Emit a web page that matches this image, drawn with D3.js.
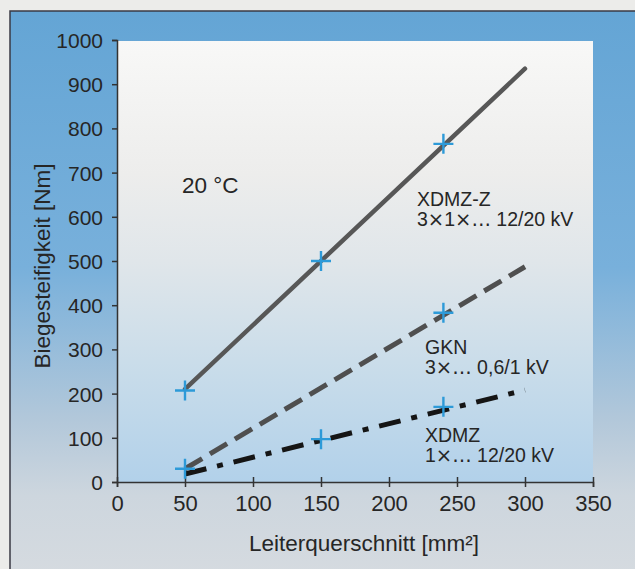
<!DOCTYPE html>
<html>
<head>
<meta charset="utf-8">
<script src="https://cdn.jsdelivr.net/npm/d3@7"></script>
<style>
  body { margin: 0; background: #ececea; }
  text { font-family: "Liberation Sans", Arial, sans-serif; fill: #262626; }
</style>
</head>
<body>
<script>
// values
var xTicks = [0, 50, 100, 150, 200, 250, 300, 350];
var yTicks = [0, 100, 200, 300, 400, 500, 600, 700, 800, 900, 1000];

// fitted lines (start / end)
var lineX = [50, 300];
var xdmzzLine = [210, 935];
var gknLine = [30, 487];
var xdmzLine = [18, 208];

// measured points (blue crosses)
var xdmzzX = [50, 150, 240], xdmzzY = [207, 500, 765];
var gknX = [50, 240], gknY = [30, 383];
var xdmzX = [150, 240], xdmzY = [97, 170];

var width = 635, height = 569;

var svg = d3.select("body").append("svg")
    .attr("width", width)
    .attr("height", height);

var defs = svg.append("defs");

var outerGrad = defs.append("linearGradient")
    .attr("id", "outer").attr("x1", 0).attr("y1", 0).attr("x2", 0).attr("y2", 1);
outerGrad.append("stop").attr("offset", "0%").attr("stop-color", "#64a5d5");
outerGrad.append("stop").attr("offset", "45%").attr("stop-color", "#78b0db");
outerGrad.append("stop").attr("offset", "72%").attr("stop-color", "#b3c8da");
outerGrad.append("stop").attr("offset", "85%").attr("stop-color", "#cdd6de");
outerGrad.append("stop").attr("offset", "100%").attr("stop-color", "#d6dbe0");

var innerGrad = defs.append("linearGradient")
    .attr("id", "inner").attr("x1", 0).attr("y1", 0).attr("x2", 0).attr("y2", 1);
innerGrad.append("stop").attr("offset", "0%").attr("stop-color", "#f8f8f7");
innerGrad.append("stop").attr("offset", "30%").attr("stop-color", "#ededec");
innerGrad.append("stop").attr("offset", "50%").attr("stop-color", "#e0e6ea");
innerGrad.append("stop").attr("offset", "75%").attr("stop-color", "#c8dcea");
innerGrad.append("stop").attr("offset", "100%").attr("stop-color", "#b2d1ea");

// frame
svg.append("rect")
    .attr("x", 10).attr("y", 11)
    .attr("width", 640).attr("height", 570)
    .attr("fill", "url(#outer)")
    .attr("stroke", "#3a3a44")
    .attr("stroke-width", 1.5);

var x = d3.scaleLinear().domain([0, 350]).range([117, 593]);
var y = d3.scaleLinear().domain([0, 1000]).range([482, 40]);

// plot area
svg.append("rect")
    .attr("x", x(0)).attr("y", y(1000) + 1)
    .attr("width", x(350) - x(0))
    .attr("height", y(0) - y(1000) - 1)
    .attr("fill", "url(#inner)");

// axes
var xAxis = svg.append("g")
    .attr("transform", "translate(0," + y(0) + ")")
    .call(d3.axisBottom(x).tickValues(xTicks).tickSize(5).tickPadding(8).tickFormat(d3.format("d")));
var yAxis = svg.append("g")
    .attr("transform", "translate(" + x(0) + ",0)")
    .call(d3.axisLeft(y).tickValues(yTicks).tickSize(5).tickPadding(9).tickFormat(d3.format("d")));

[xAxis, yAxis].forEach(function(a){
  a.select(".domain").attr("stroke", "#333").attr("stroke-width", 1.5);
  a.selectAll(".tick line").attr("stroke", "#333").attr("stroke-width", 1.5);
  a.selectAll(".tick text")
    .attr("font-family", "Liberation Sans, Arial, sans-serif")
    .attr("fill", "#222");
});
xAxis.selectAll(".tick text").attr("font-size", 22);
yAxis.selectAll(".tick text").attr("font-size", 21).attr("dy", "0.36em");
xAxis.selectAll(".tick line").attr("y1", -5);

// axis titles
svg.append("text")
    .attr("transform", "translate(50,266) rotate(-90)")
    .attr("text-anchor", "middle")
    .attr("font-size", 22.5)
    .text("Biegesteifigkeit [Nm]");

svg.append("text")
    .attr("x", 364).attr("y", 551)
    .attr("text-anchor", "middle")
    .attr("font-size", 22.5)
    .text("Leiterquerschnitt [mm²]");

// lines
var lineFunction = d3.line()
    .x(function(d) { return x(d[0]); })
    .y(function(d) { return y(d[1]); });

function pairs(xs, ys) {
  return xs.map(function(v, i){ return [v, ys[i]]; });
}

svg.append("path")
    .attr("d", lineFunction(pairs(lineX, gknLine)))
    .attr("fill", "none")
    .attr("stroke", "#4f4f4f")
    .attr("stroke-width", 5)
    .attr("stroke-dasharray", "20,9");

svg.append("path")
    .attr("d", lineFunction(pairs(lineX, xdmzLine)))
    .attr("fill", "none")
    .attr("stroke", "#151515")
    .attr("stroke-width", 5)
    .attr("stroke-dasharray", "22,11,6,11");

svg.append("path")
    .attr("d", lineFunction(pairs(lineX, xdmzzLine)))
    .attr("fill", "none")
    .attr("stroke", "#575757")
    .attr("stroke-width", 4.5)
    .attr("stroke-linecap", "round");

// crosses
var pts = pairs(xdmzzX, xdmzzY).concat(pairs(gknX, gknY), pairs(xdmzX, xdmzY));
svg.append("g").attr("class", "pin")
    .selectAll("path")
    .data(pts)
    .enter()
    .append("path")
    .attr("d", function(d){
      var cx = x(d[0]), cy = y(d[1]), s = 10;
      return "M" + (cx - s) + "," + cy + "H" + (cx + s) +
             "M" + cx + "," + (cy - s) + "V" + (cy + s);
    })
    .attr("stroke", "#2d9ad8")
    .attr("stroke-width", 2.4)
    .attr("fill", "none");

// annotations; the × signs are set in a wider face like in the print
function label(tx, ty, lines, size) {
  lines.forEach(function(s, i){
    var t = svg.append("text")
        .attr("x", tx).attr("y", ty + i * 20)
        .attr("font-size", size).attr("fill", "#2e2e2e");
    s.split(/(×|…)/).forEach(function(part){
      if (!part) return;
      var sp = t.append("tspan").text(part);
      if (part === "×" || part === "…") sp.attr("font-family", "DejaVu Sans");
    });
  });
}

label(182, 193, ["20 °C"], 22.5);
label(417, 206, ["XDMZ-Z", "3×1×… 12/20 kV"], 19.5);
label(425, 354, ["GKN", "3×… 0,6/1 kV"], 19.5);
label(425, 442, ["XDMZ", "1×… 12/20 kV"], 19.5);
</script>
</body>
</html>
